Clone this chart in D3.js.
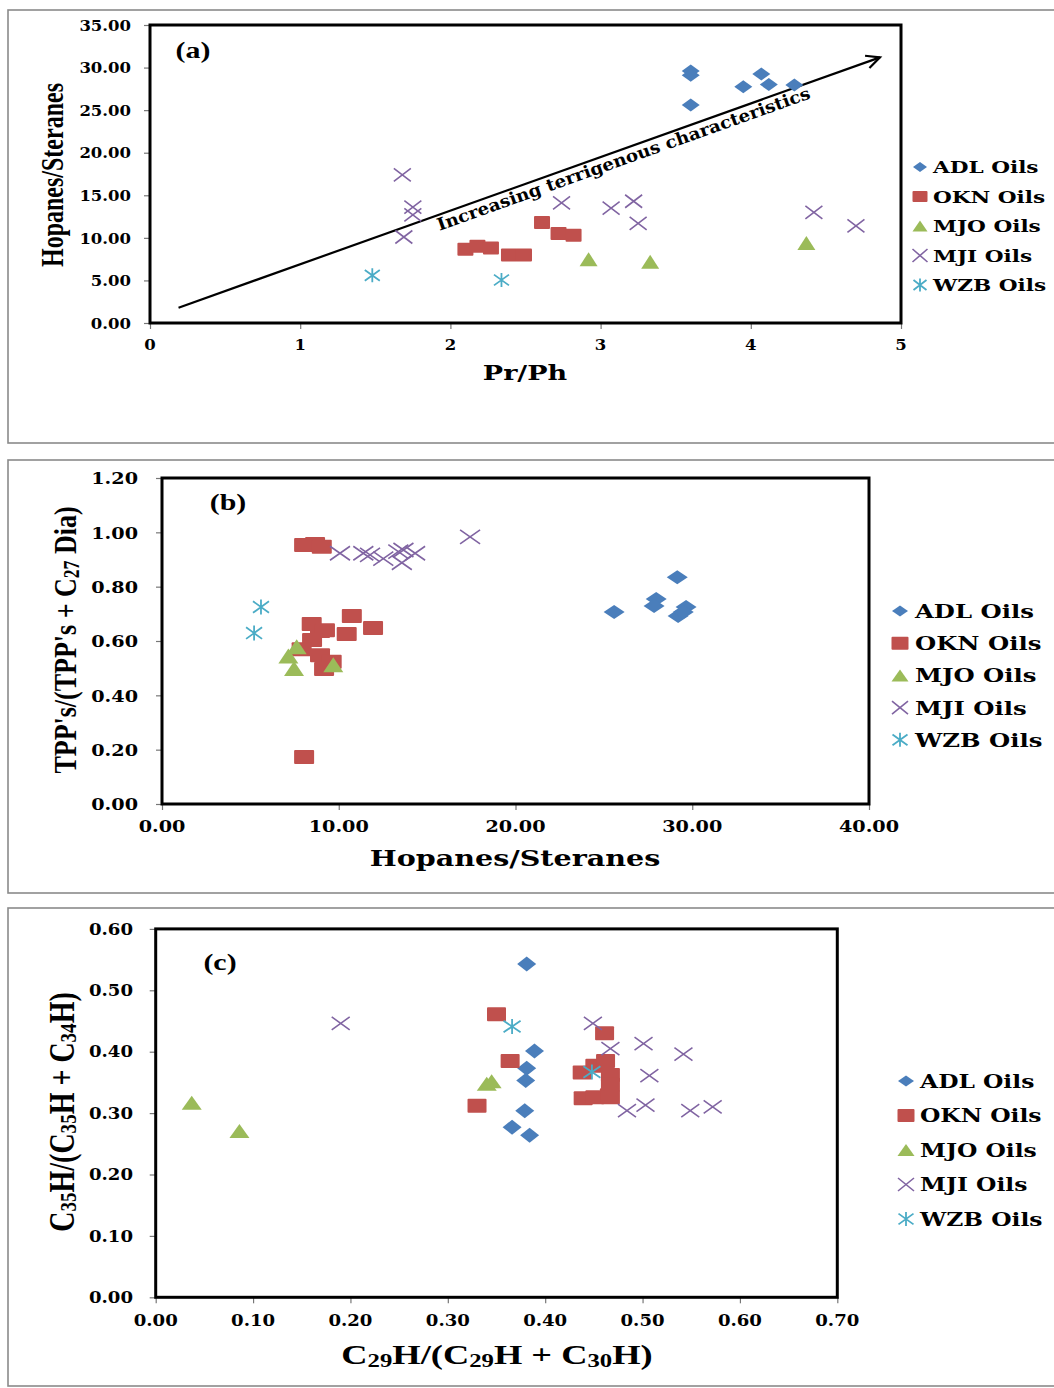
<!DOCTYPE html>
<html><head><meta charset="utf-8">
<script src="https://cdn.jsdelivr.net/npm/d3@7"></script>
<style>html,body{margin:0;padding:0;background:#fff;}</style>
</head><body>
<script>
// ---------------- DATA ----------------
const seriesNames = ["ADL Oils", "OKN Oils", "MJO Oils", "MJI Oils", "WZB Oils"];
const seriesColors = ["#4a7ebb", "#c0504d", "#9bbb59", "#8064a2", "#4bacc6"];
const seriesShapes = ["diamond", "square", "triangle", "cross", "star"];

// Panel (a): Pr/Ph vs Hopanes/Steranes
const aADL = [[3.60,29.6],[3.60,29.1],[3.60,25.6],[3.95,27.75],[4.07,29.25],[4.12,28.0],[4.29,27.95]];
const aOKN = [[2.10,8.65],[2.18,9.0],[2.27,8.8],[2.39,8.0],[2.49,8.0],[2.61,11.8],[2.72,10.5],[2.82,10.3]];
const aMJO = [[2.92,7.5],[3.33,7.2],[4.37,9.4]];
const aMJI = [[1.68,17.4],[1.75,13.6],[1.75,12.7],[1.69,10.1],[2.74,14.1],[3.07,13.5],[3.22,14.3],[3.25,11.7],[4.42,13.0],[4.70,11.4]];
const aWZB = [[1.48,5.6],[2.34,5.05]];
const aXTicks = [0,1,2,3,4,5];
const aXLabels = ["0","1","2","3","4","5"];
const aYTicks = [0,5,10,15,20,25,30,35];
const aYLabels = ["0.00","5.00","10.00","15.00","20.00","25.00","30.00","35.00"];
const aArrow = [[0.19,1.8],[4.86,31.2]];
const aArrowText = "Increasing terrigenous characteristics";

// Panel (b): Hopanes/Steranes vs TPP's/(TPP's + C27 Dia)
const bADL = [[29.15,0.835],[25.58,0.707],[27.96,0.755],[27.84,0.729],[29.65,0.725],[29.20,0.692],[29.49,0.707]];
const bOKN = [[8.04,0.953],[8.66,0.957],[9.04,0.947],[8.47,0.663],[8.94,0.637],[9.22,0.640],[8.49,0.604],[10.74,0.692],[10.45,0.626],[11.94,0.648],[7.90,0.570],[8.94,0.548],[9.60,0.524],[9.17,0.497],[8.04,0.173]];
const bMJO = [[7.62,0.579],[7.15,0.545],[7.47,0.499],[9.69,0.513]];
const bMJI = [[10.07,0.923],[11.39,0.923],[11.77,0.917],[12.52,0.903],[13.37,0.929],[13.66,0.935],[13.57,0.888],[14.32,0.923],[17.43,0.983]];
const bWZB = [[5.60,0.725],[5.21,0.629]];
const bXTicks = [0,10,20,30,40];
const bXLabels = ["0.00","10.00","20.00","30.00","40.00"];
const bYTicks = [0,0.2,0.4,0.6,0.8,1.0,1.2];
const bYLabels = ["0.00","0.20","0.40","0.60","0.80","1.00","1.20"];

// Panel (c): C29H/(C29H + C30H) vs C35H/(C35H + C34H)
const cADL = [[0.381,0.543],[0.389,0.401],[0.381,0.373],[0.380,0.353],[0.379,0.304],[0.366,0.277],[0.384,0.264]];
const cOKN = [[0.350,0.461],[0.364,0.385],[0.330,0.312],[0.461,0.430],[0.438,0.366],[0.451,0.377],[0.462,0.385],[0.467,0.362],[0.467,0.346],[0.466,0.329],[0.439,0.324],[0.451,0.326],[0.467,0.326]];
const cMJO = [[0.037,0.317],[0.086,0.271],[0.340,0.348],[0.345,0.352]];
const cMJI = [[0.190,0.446],[0.449,0.446],[0.467,0.405],[0.501,0.413],[0.542,0.396],[0.507,0.361],[0.484,0.304],[0.503,0.313],[0.549,0.304],[0.572,0.310]];
const cWZB = [[0.366,0.441],[0.448,0.367]];
const cXTicks = [0,0.1,0.2,0.3,0.4,0.5,0.6,0.7];
const cXLabels = ["0.00","0.10","0.20","0.30","0.40","0.50","0.60","0.70"];
const cYTicks = [0,0.1,0.2,0.3,0.4,0.5,0.6];
const cYLabels = ["0.00","0.10","0.20","0.30","0.40","0.50","0.60"];

// ---------------- DRAWING ----------------
const W = 1054, H = 1388;
const FS = "'DejaVu Serif', serif";
const FT = "'Liberation Serif', 'Times New Roman', serif";

const svg = d3.select("body").append("svg").attr("width", W).attr("height", H)
  .attr("viewBox", `0 0 ${W} ${H}`).style("display","block");

function txt(parent, x, y, parts, o) {
  const t = parent.append("text")
    .attr("transform", `translate(${x},${y}) scale(${o.sx || 1},1)` + (o.rot ? ` rotate(${o.rot})` : ""))
    .attr("font-family", o.ff || FS)
    .attr("font-weight", "bold")
    .attr("font-size", o.fs)
    .attr("fill", "#000")
    .attr("text-anchor", o.anchor || "start")
    .attr("dominant-baseline", "central");
  if (typeof parts === "string") parts = [[parts, 0]];
  parts.forEach(([s, sub]) => {
    const ts = t.append("tspan").text(s);
    if (sub) ts.attr("baseline-shift", "-28%").attr("font-size", o.fs * 0.68);
  });
  if (o.len) t.attr("textLength", o.len).attr("lengthAdjust", "spacingAndGlyphs");
  return t;
}

function marker(g, shape, cx, cy, w, h, color) {
  if (shape === "diamond") {
    g.append("path").attr("d", `M${cx},${cy-h/2}L${cx+w/2},${cy}L${cx},${cy+h/2}L${cx-w/2},${cy}Z`).attr("fill", color);
  } else if (shape === "square") {
    g.append("rect").attr("x", cx-w/2).attr("y", cy-h/2).attr("width", w).attr("height", h).attr("rx", 1).attr("fill", color);
  } else if (shape === "triangle") {
    g.append("path").attr("d", `M${cx},${cy-h/2}L${cx+w/2},${cy+h/2}L${cx-w/2},${cy+h/2}Z`).attr("fill", color);
  } else if (shape === "cross") {
    g.append("path").attr("d", `M${cx-w/2},${cy-h/2}L${cx+w/2},${cy+h/2}M${cx-w/2},${cy+h/2}L${cx+w/2},${cy-h/2}`)
      .attr("stroke", color).attr("stroke-width", 1.6).attr("fill", "none");
  } else if (shape === "star") {
    g.append("path").attr("d", `M${cx-w/2},${cy-h/2.6}L${cx+w/2},${cy+h/2.6}M${cx-w/2},${cy+h/2.6}L${cx+w/2},${cy-h/2.6}M${cx},${cy-h/2}L${cx},${cy+h/2}`)
      .attr("stroke", color).attr("stroke-width", 1.8).attr("fill", "none");
  }
}

function drawPanel(p) {
  const g = svg.append("g");
  // outer frame
  g.append("rect").attr("x", 8).attr("y", p.frame[0]).attr("width", 1070).attr("height", p.frame[1]-p.frame[0])
    .attr("fill", "none").attr("stroke", "#8a8a8a").attr("stroke-width", 1.6);
  const x = p.x, y = p.y;
  const [xa, xb] = x.range(), [ya, yb] = y.range();
  // ticks via d3 axes
  g.append("g").attr("transform", `translate(${xa},0)`)
    .call(d3.axisLeft(y).tickValues(p.yTicks).tickSize(6).tickFormat(""))
    .call(s => s.select(".domain").remove())
    .call(s => s.selectAll("line").attr("stroke", "#777").attr("stroke-width", 1.2));
  g.append("g").attr("transform", `translate(0,${ya})`)
    .call(d3.axisBottom(x).tickValues(p.xTicks).tickSize(6).tickFormat(""))
    .call(s => s.select(".domain").remove())
    .call(s => s.selectAll("line").attr("stroke", "#777").attr("stroke-width", 1.2));
  // plot frame
  g.append("rect").attr("x", xa).attr("y", yb).attr("width", xb-xa).attr("height", ya-yb)
    .attr("fill", "none").attr("stroke", "#000").attr("stroke-width", 3);
  // tick labels
  p.yTicks.forEach((v, i) => txt(g, p.yLabX, y(v), p.yLabels[i], {fs: p.tfs, sx: p.tsx, anchor: "end"}));
  p.xTicks.forEach((v, i) => txt(g, x(v), p.xLabY, p.xLabels[i], {fs: p.tfs, sx: p.tsx, anchor: "middle"}));
  // titles
  txt(g, p.xTitle.pos[0], p.xTitle.pos[1], p.xTitle.parts, Object.assign({anchor: "middle"}, p.xTitle.o));
  txt(g, p.yTitle.pos[0], p.yTitle.pos[1], p.yTitle.parts, Object.assign({anchor: "middle", rot: -90}, p.yTitle.o));
  txt(g, p.tag.pos[0], p.tag.pos[1], p.tag.text, {ff: FT, fs: 23, sx: 1.3, anchor: "middle"});
  // extra (arrow etc.)
  if (p.extra) p.extra(g);
  // points
  p.data.forEach((pts, si) => {
    pts.forEach(d => marker(g, seriesShapes[si], x(d[0]), y(d[1]), p.ms[si][0], p.ms[si][1], seriesColors[si]));
  });
  // legend
  seriesNames.forEach((n, i) => {
    const ly = p.leg.y0 + i * p.leg.dy;
    marker(g, seriesShapes[i], p.leg.mx, ly, p.leg.ms[i][0], p.leg.ms[i][1], seriesColors[i]);
    txt(g, p.leg.tx, ly, n, {fs: p.leg.fs, sx: p.leg.sx});
  });
}

// Panel (a)
const xA = d3.scaleLinear().domain([0,5]).range([150,901]);
const yA = d3.scaleLinear().domain([0,35]).range([323,25]);
drawPanel({
  frame: [10, 443], x: xA, y: yA,
  xTicks: aXTicks, xLabels: aXLabels, yTicks: aYTicks, yLabels: aYLabels,
  yLabX: 131, xLabY: 344, tfs: 15, tsx: 1.1,
  xTitle: {pos: [525, 373], parts: "Pr/Ph", o: {fs: 20, sx: 1.35}},
  yTitle: {pos: [52, 175], parts: "Hopanes/Steranes", o: {ff: FT, fs: 24, sx: 1.3}},
  tag: {pos: [193, 50], text: "(a)"},
  data: [aADL, aOKN, aMJO, aMJI, aWZB],
  ms: [[18,13],[16,13],[18,14],[17,13],[15,14]],
  leg: {mx: 920, tx: 933, y0: 167, dy: 29.5, fs: 17, sx: 1.27,
        ms: [[14,10],[15,11],[15,11],[15,13],[13,13]]},
  extra: g => {
    const [p0, p1] = aArrow.map(d => [xA(d[0]), yA(d[1])]);
    g.append("line").attr("x1", p0[0]).attr("y1", p0[1]).attr("x2", p1[0]).attr("y2", p1[1])
      .attr("stroke", "#000").attr("stroke-width", 2.2);
    const ang = Math.atan2(p1[1]-p0[1], p1[0]-p0[0]);
    const L = 15, spread = 0.45;
    const a1 = [p1[0] - L*Math.cos(ang - spread), p1[1] - L*Math.sin(ang - spread)];
    const a2 = [p1[0] - L*Math.cos(ang + spread), p1[1] - L*Math.sin(ang + spread)];
    g.append("path").attr("d", `M${a1[0]},${a1[1]}L${p1[0]},${p1[1]}L${a2[0]},${a2[1]}`)
      .attr("fill", "none").attr("stroke", "#000").attr("stroke-width", 2.2);
    const deg = ang * 180 / Math.PI;
    // text centred below the arrow line
    const t = 0.64, off = 12;
    const cx = p0[0] + t*(p1[0]-p0[0]) - off*Math.sin(-ang) ;
    const cy = p0[1] + t*(p1[1]-p0[1]) + off*Math.cos(ang);
    g.append("text").attr("transform", `translate(${cx},${cy}) rotate(${deg})`)
      .attr("font-family", FS).attr("font-weight", "bold").attr("font-size", 17)
      .attr("text-anchor", "middle").attr("dominant-baseline", "central")
      .attr("textLength", 395).attr("lengthAdjust", "spacingAndGlyphs")
      .text(aArrowText);
  }
});

// Panel (b)
const xB = d3.scaleLinear().domain([0,40]).range([162,869]);
const yB = d3.scaleLinear().domain([0,1.2]).range([804,478]);
drawPanel({
  frame: [460, 893], x: xB, y: yB,
  xTicks: bXTicks, xLabels: bXLabels, yTicks: bYTicks, yLabels: bYLabels,
  yLabX: 138, xLabY: 826, tfs: 16, tsx: 1.2,
  xTitle: {pos: [515, 858], parts: "Hopanes/Steranes", o: {fs: 22, sx: 1.3}},
  yTitle: {pos: [65, 640], parts: [["TPP's/(TPP's + C",0],["27",1],[" Dia)",0]], o: {ff: FT, fs: 26, sx: 1.25}},
  tag: {pos: [228, 502], text: "(b)"},
  data: [bADL, bOKN, bMJO, bMJI, bWZB],
  ms: [[21,14],[20,14],[20,15],[20,14],[16,15]],
  leg: {mx: 900, tx: 915, y0: 611, dy: 32.2, fs: 19, sx: 1.28,
        ms: [[16,11],[17,13],[17,12],[16,13],[15,14]]},
});

// Panel (c)
const xC = d3.scaleLinear().domain([0,0.7]).range([155.7,837.3]);
const yC = d3.scaleLinear().domain([0,0.6]).range([1297.3,928.9]);
drawPanel({
  frame: [908, 1386], x: xC, y: yC,
  xTicks: cXTicks, xLabels: cXLabels, yTicks: cYTicks, yLabels: cYLabels,
  yLabX: 133, xLabY: 1320, tfs: 16, tsx: 1.13,
  xTitle: {pos: [497, 1355], parts: [["C",0],["29",1],["H/(C",0],["29",1],["H + C",0],["30",1],["H)",0]], o: {ff: FT, fs: 28, sx: 1.3}},
  yTitle: {pos: [62, 1112], parts: [["C",0],["35",1],["H/(C",0],["35",1],["H + C",0],["34",1],["H)",0]], o: {ff: FT, fs: 28, sx: 1.25}},
  tag: {pos: [220, 962], text: "(c)"},
  data: [cADL, cOKN, cMJO, cMJI, cWZB],
  ms: [[19,15],[19,14],[20,14],[18,13],[17,15]],
  leg: {mx: 906, tx: 920, y0: 1081, dy: 34.5, fs: 18, sx: 1.3,
        ms: [[16,11],[17,13],[17,12],[16,13],[15,14]]},
});
</script>
</body></html>
